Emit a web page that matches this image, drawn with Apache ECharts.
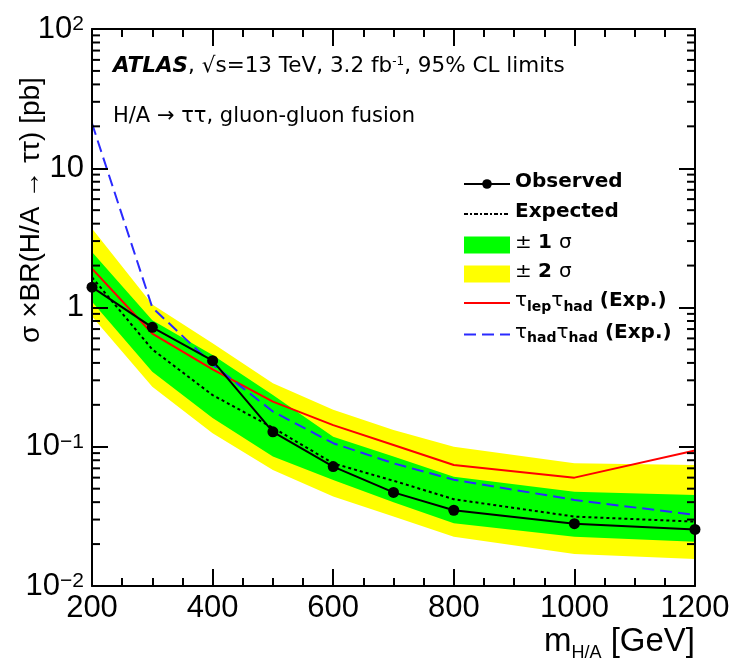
<!DOCTYPE html>
<html>
<head>
<meta charset="utf-8">
<script src="https://cdn.jsdelivr.net/npm/echarts@6/dist/echarts.min.js"></script>
<style>
  html, body { margin: 0; padding: 0; background: #fff; }
  #chart { width: 736px; height: 658px; }
</style>
</head>
<body>
<div id="chart"></div>
<script>
// Signal mass points [GeV]
const massPoints = [200, 300, 400, 500, 600, 700, 800, 1000, 1200];

// 95% CL limits on sigma x BR [pb]
const observedLimit  = [1.4, 0.72, 0.415, 0.128, 0.072, 0.047, 0.035, 0.028, 0.0255];
const expectedLimit  = [1.65, 0.50, 0.235, 0.137, 0.076, 0.057, 0.042, 0.0315, 0.029];
const oneSigmaUp     = [2.5, 0.81, 0.456, 0.235, 0.118, 0.085, 0.061, 0.0475, 0.045];
const oneSigmaDown   = [1.10, 0.346, 0.161, 0.085, 0.0577, 0.040, 0.0282, 0.0226, 0.0208];
const twoSigmaUp     = [3.7, 1.05, 0.553, 0.286, 0.184, 0.132, 0.10, 0.076, 0.074];
const twoSigmaDown   = [0.86, 0.27, 0.125, 0.068, 0.044, 0.0315, 0.0226, 0.017, 0.0156];
const lepHadExpected = [1.9, 0.65, 0.36, 0.211, 0.143, 0.103, 0.074, 0.060, 0.094];
const hadHadExpected = [21, 1.0, 0.39, 0.179, 0.106, 0.076, 0.058, 0.0415, 0.0324];

// Axis decoration
const yDecadeValues = [0.01, 0.1, 1, 10, 100];
const yDecadeLabels = ['{m|10}{s|\u22122}', '{m|10}{s|\u22121}', '{m|1}', '{m|10}', '{m|10}{s|2}'];
const yMinorDecades = [0.01, 0.1, 1, 10];
const yMinorSteps = [2, 3, 4, 5, 6, 7, 8, 9];

const TICK_FONT = '"Liberation Sans", Arial, sans-serif';
const TEXT_FONT = '"DejaVu Sans", sans-serif';

const pairs = ys => massPoints.map((m, i) => [m, ys[i]]);

function bandSeries(name, lo, hi, color, z) {
  return {
    type: 'custom',
    name: name,
    xAxisIndex: 0,
    yAxisIndex: 0,
    z: z,
    silent: true,
    itemStyle: { color: color },
    data: massPoints.map((m, i) => [m, lo[i], hi[i]]),
    encode: { x: 0, y: [1, 2] },
    renderItem: function (params, api) {
      if (params.dataIndex !== 0) return null;
      const upper = massPoints.map((m, i) => api.coord([m, hi[i]]));
      const lower = massPoints.map((m, i) => api.coord([m, lo[i]])).reverse();
      return {
        type: 'polygon',
        shape: { points: upper.concat(lower) },
        style: { fill: color }
      };
    }
  };
}

// Log-scale minor ticks (2..9 x 10^n) on the left and right frame edges
const minorTickValues = [];
yMinorDecades.forEach(d => yMinorSteps.forEach(k => minorTickValues.push(d * k)));

const minorTickSeries = {
  type: 'custom',
  name: 'minorTicks',
  xAxisIndex: 0,
  yAxisIndex: 0,
  silent: true,
  z: 20,
  clip: false,
  data: minorTickValues.map(v => [200, v]),
  encode: { x: 0, y: 1 },
  renderItem: function (params, api) {
    const v = api.value(1);
    const l = api.coord([200, v]);
    const r = api.coord([1200, v]);
    return {
      type: 'group',
      children: [
        { type: 'rect', shape: { x: l[0], y: l[1] - 1, width: 8, height: 2 }, style: { fill: '#000' } },
        { type: 'rect', shape: { x: r[0] - 8, y: r[1] - 1, width: 8, height: 2 }, style: { fill: '#000' } }
      ]
    };
  }
};

function xAxisDef(pos, showLabel) {
  return {
    type: 'value',
    position: pos,
    min: 200, max: 1200, interval: 200,
    z: 10,
    axisLine: { show: true, onZero: false, lineStyle: { color: '#000', width: 2 } },
    axisTick: { show: true, inside: true, length: 17, lineStyle: { color: '#000', width: 2 } },
    minorTick: { show: true, splitNumber: 4, length: 8, lineStyle: { color: '#000', width: 2 } },
    splitLine: { show: false },
    minorSplitLine: { show: false },
    axisLabel: {
      show: showLabel, color: '#000', fontSize: 31, fontFamily: TICK_FONT, margin: 7,
      formatter: v => String(v)
    }
  };
}

function yAxisDef(pos, showLabel) {
  return {
    type: 'log',
    logBase: 10,
    position: pos,
    min: 0.01, max: 100,
    z: 10,
    axisLine: { show: true, onZero: false, lineStyle: { color: '#000', width: 2 } },
    axisTick: { show: true, inside: true, length: 16, lineStyle: { color: '#000', width: 2 } },
    splitLine: { show: false },
    axisLabel: {
      show: showLabel,
      margin: 8,
      formatter: function (v) {
        const idx = yDecadeValues.findIndex(d => Math.abs(Math.log10(d) - Math.log10(v)) < 1e-6);
        return idx >= 0 ? yDecadeLabels[idx] : '';
      },
      rich: {
        m: { fontSize: 31, lineHeight: 31, fontFamily: TICK_FONT, color: '#000', verticalAlign: 'top' },
        s: { fontSize: 21, lineHeight: 21, fontFamily: TICK_FONT, color: '#000', verticalAlign: 'top' }
      }
    }
  };
}

const legendRich = {
  b: { fontFamily: TEXT_FONT, fontWeight: 'bold', fontSize: 20, lineHeight: 24, color: '#000', verticalAlign: 'top' },
  n: { fontFamily: TEXT_FONT, fontWeight: 'normal', fontSize: 20, lineHeight: 24, color: '#000', verticalAlign: 'top' },
  t: { fontFamily: TEXT_FONT, fontWeight: 'normal', fontSize: 20, lineHeight: 24, color: '#000', verticalAlign: 'top' },
  sub: { fontFamily: TEXT_FONT, fontWeight: 'bold', fontSize: 14, lineHeight: 14, color: '#000', verticalAlign: 'top', padding: [9, 0, 0, 0] }
};

const legendText = {
  'Observed': '{b|Observed}',
  'Expected': '{b|Expected}',
  '\u00b1 1 \u03c3': '{n|\u00b1 }{b|1 }{n|\u03c3}',
  '\u00b1 2 \u03c3': '{n|\u00b1 }{b|2 }{n|\u03c3}',
  '\u03c4lep\u03c4had (Exp.)': '{t|\u03c4}{sub|lep}{t|\u03c4}{sub|had}{b| (Exp.)}',
  '\u03c4had\u03c4had (Exp.)': '{t|\u03c4}{sub|had}{t|\u03c4}{sub|had}{b| (Exp.)}'
};

const legendBase = {
  orient: 'vertical',
  left: 463,
  padding: 0,
  itemWidth: 46,
  selectedMode: false,
  formatter: name => legendText[name] || name,
  textStyle: { rich: legendRich }
};

const option = {
  backgroundColor: '#fff',
  animation: false,
  grid: { left: 92, top: 29, right: 41, bottom: 72, containLabel: false },
  xAxis: [xAxisDef('bottom', true), xAxisDef('top', false)],
  yAxis: [yAxisDef('left', true), yAxisDef('right', false)],
  legend: [
    Object.assign({}, legendBase, {
      top: 172,
      itemHeight: 12,
      itemGap: 10,
      data: [
        { name: 'Observed' },
        { name: 'Expected', itemStyle: { opacity: 0 }, lineStyle: { type: [4, 2, 2, 2] } }
      ]
    }),
    Object.assign({}, legendBase, {
      top: 233,
      itemHeight: 17,
      itemGap: 8.5,
      data: [
        { name: '\u00b1 1 \u03c3', icon: 'rect' },
        { name: '\u00b1 2 \u03c3', icon: 'rect' },
        { name: '\u03c4lep\u03c4had (Exp.)', itemStyle: { opacity: 0 } },
        { name: '\u03c4had\u03c4had (Exp.)', itemStyle: { opacity: 0 } }
      ]
    })
  ],
  graphic: [
    {
      type: 'text', x: 31, y: 210, rotation: Math.PI / 2,
      style: {
        text: '\u03c3 \u00d7BR(H/A \u2192 \u03c4\u03c4) [pb]',
        font: '28px ' + TICK_FONT, fill: '#000', align: 'center', verticalAlign: 'middle'
      }
    },
    {
      type: 'text', x: 695, y: 642,
      style: {
        text: '{m|m}{s|H/A}{m| [GeV]}',
        align: 'right', verticalAlign: 'middle',
        rich: {
          m: { fontSize: 33, lineHeight: 33, fontFamily: TICK_FONT, fill: '#000', verticalAlign: 'top' },
          s: { fontSize: 18, lineHeight: 18, fontFamily: TICK_FONT, fill: '#000', verticalAlign: 'top', padding: [19, 0, 0, 0] }
        }
      }
    },
    {
      type: 'text', x: 113, y: 68,
      style: {
        text: '{a|ATLAS}{n|, \u221as=13 TeV, 3.2 fb}{p|-1}{n|, 95% CL limits}',
        align: 'left', verticalAlign: 'middle',
        rich: {
          a: { fontSize: 21.5, lineHeight: 25, fontFamily: TEXT_FONT, fontWeight: 'bold', fontStyle: 'italic', fill: '#000', verticalAlign: 'top' },
          n: { fontSize: 21.5, lineHeight: 25, fontFamily: TEXT_FONT, fill: '#000', verticalAlign: 'top' },
          p: { fontSize: 12, lineHeight: 12, fontFamily: TEXT_FONT, fill: '#000', verticalAlign: 'top' }
        }
      }
    },
    {
      type: 'text', x: 113, y: 117,
      style: {
        text: 'H/A \u2192 \u03c4\u03c4, gluon-gluon fusion',
        font: '21px ' + TEXT_FONT, fill: '#000', align: 'left', verticalAlign: 'middle'
      }
    }
  ],
  series: [
    bandSeries('\u00b1 2 \u03c3', twoSigmaDown, twoSigmaUp, '#ffff00', 1),
    bandSeries('\u00b1 1 \u03c3', oneSigmaDown, oneSigmaUp, '#00ff00', 2),
    {
      type: 'line', name: '\u03c4lep\u03c4had (Exp.)', data: pairs(lepHadExpected),
      symbol: 'none', z: 5,
      lineStyle: { color: '#ff0000', width: 2 }, itemStyle: { color: '#ff0000' }
    },
    {
      type: 'line', name: '\u03c4had\u03c4had (Exp.)', data: pairs(hadHadExpected),
      symbol: 'none', z: 6,
      lineStyle: { color: '#2a2aff', width: 2, type: [12, 6] }, itemStyle: { color: '#2a2aff' }
    },
    {
      type: 'line', name: 'Expected', data: pairs(expectedLimit),
      symbol: 'none', z: 7,
      lineStyle: { color: '#000', width: 2, type: [3, 3] }, itemStyle: { color: '#000' }
    },
    {
      type: 'line', name: 'Observed', data: pairs(observedLimit),
      symbol: 'circle', symbolSize: 11, clip: false, z: 8,
      lineStyle: { color: '#000', width: 2 }, itemStyle: { color: '#000' }
    },
    minorTickSeries
  ]
};

const chart = echarts.init(document.getElementById('chart'), null, { renderer: 'canvas' });
chart.setOption(option);
</script>
</body>
</html>
